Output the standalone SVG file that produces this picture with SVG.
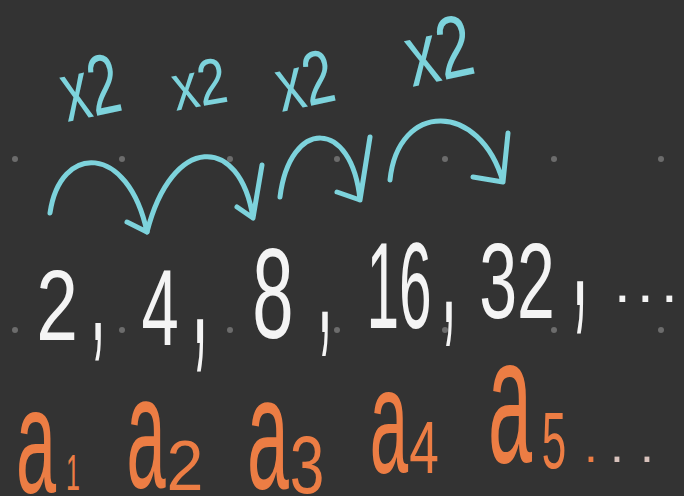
<svg xmlns="http://www.w3.org/2000/svg" width="684" height="496" viewBox="0 0 684 496">
<style>
.bg{fill:#333333}
.dot{fill:#6c6c6c}
.arc{fill:none;stroke:#7dd3dc;stroke-width:5;stroke-linecap:round;stroke-linejoin:round}
.lbl{font-family:"Liberation Sans",Arial,sans-serif;fill:#7dd3dc;text-anchor:middle}
.num{font-family:"Liberation Sans",Arial,sans-serif;fill:#f4f4f4;text-anchor:middle}
.ter{font-family:"Liberation Sans",Arial,sans-serif;fill:#ec7d44;text-anchor:middle}
</style>
<rect class="bg" x="0" y="0" width="684" height="496"/>
<g id="grid">
<circle class="dot" cx="15" cy="159" r="3"/><circle class="dot" cx="122" cy="159" r="3"/><circle class="dot" cx="230" cy="159" r="3"/><circle class="dot" cx="337" cy="159" r="3"/><circle class="dot" cx="445" cy="159" r="3"/><circle class="dot" cx="554" cy="159" r="3"/><circle class="dot" cx="661" cy="159" r="3"/>
<circle class="dot" cx="15" cy="330" r="3"/><circle class="dot" cx="122" cy="330" r="3"/><circle class="dot" cx="230" cy="330" r="3"/><circle class="dot" cx="337" cy="330" r="3"/><circle class="dot" cx="445" cy="330" r="3"/><circle class="dot" cx="554" cy="330" r="3"/><circle class="dot" cx="661" cy="330" r="3"/>
</g>
<g id="connectors">
<path class="arc" d="M50,213 C60,143 128,143 147,232 M127,222 L147,232"/>
<path class="arc" d="M147,232 C172,134 240,134 253,218 M237,207 L253,218 L262,165"/>
<path class="arc" d="M280,197 C290,118 352,118 360,200 M337,192 L360,200 L370,137"/>
<path class="arc" d="M390,180 C398,101 480,101 503,182 M473,177 L503,182 L508,133"/>
</g>
<g id="labels">
<text class="lbl" font-size="85" transform="translate(96,116) rotate(-12) scale(0.65,1)">x2</text>
<text class="lbl" font-size="65" transform="translate(203,106) rotate(-10) scale(0.8,1)">x2</text>
<text class="lbl" font-size="76" transform="translate(310,106) rotate(-12) scale(0.72,1)">x2</text>
<text class="lbl" font-size="88" transform="translate(445,80) rotate(-12) scale(0.72,1)">x2</text>
</g>
<g id="sequence">
<text class="num" font-size="100" transform="translate(57,340) scale(0.75,1)">2</text>
<text class="num" font-size="160" transform="translate(98,340) scale(0.35,1)">,</text>
<text class="num" font-size="108" transform="translate(160,345) scale(0.62,1)">4</text>
<text class="num" font-size="220" transform="translate(200,343) scale(0.28,1)">,</text>
<text class="num" font-size="128" transform="translate(273,338) scale(0.58,1)">8</text>
<text class="num" font-size="190" transform="translate(325,332) scale(0.3,1)">,</text>
<text class="num" font-size="122" transform="translate(399,328) scale(0.48,1)">16</text>
<text class="num" font-size="190" transform="translate(449,322) scale(0.3,1)">,</text>
<text class="num" font-size="108" transform="translate(517,318) scale(0.63,1)">32</text>
<text class="num" font-size="220" transform="translate(580,305) scale(0.28,1)">,</text>
<text class="num" font-size="60" x="614 637 661" y="302" style="text-anchor:start">...</text>
</g>
<g id="terms">
<text class="ter" font-size="150" transform="translate(36,493) scale(0.48,1)">a</text>
<text class="ter" font-size="50" transform="translate(73,490) scale(0.5,1)">1</text>
<text class="ter" font-size="160" transform="translate(146,487) scale(0.44,1)">a</text>
<text class="ter" font-size="70" transform="translate(185,490) scale(0.95,1)">2</text>
<text class="ter" font-size="160" transform="translate(268,488) scale(0.47,1)">a</text>
<text class="ter" font-size="82" transform="translate(307,493) scale(0.76,1)">3</text>
<text class="ter" font-size="150" transform="translate(389,473) scale(0.46,1)">a</text>
<text class="ter" font-size="74" transform="translate(424,473) scale(0.72,1)">4</text>
<text class="ter" font-size="180" transform="translate(510,462) scale(0.44,1)">a</text>
<text class="ter" font-size="80" transform="translate(554,468) scale(0.55,1)">5</text>
<text class="ter" font-size="50" x="584 610 640" y="462" style="text-anchor:start">.<tspan fill="#d8c2bc">..</tspan></text>
</g>
</svg>
